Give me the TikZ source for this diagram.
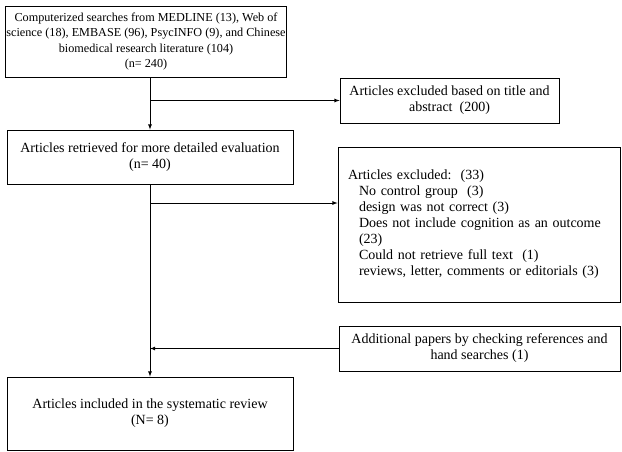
\documentclass[tikz,border=0pt]{standalone}
\usepackage{fontspec}
\setmainfont{Liberation Serif}
\usetikzlibrary{arrows, positioning}
\tikzstyle{flowBox} = [draw, rectangle, line width=0.8pt, align=center,
   inner sep=4pt, font=\fontsize{14}{16}\selectfont]
\newcommand{\reasonIndent}{\hspace*{11pt}}

\begin{document}
\begin{tikzpicture}[
  x=1pt, y=-1pt,
  >=latex,
  line width=0.8pt,
  ]
  \useasboundingbox (0,0) rectangle (622,451);
  \node[flowBox, font=\fontsize{12.2}{15.6}\selectfont, inner sep=1pt,
        minimum width=280pt, minimum height=71pt] (search) at (146,41.5)
    {Computerized searches from MEDLINE (13), Web of\\
     science (18), EMBASE (96), PsycINFO (9), and Chinese\\
     biomedical research literature (104)\\
     (n= 240)};
  \node[flowBox, minimum width=286pt, minimum height=54pt] (retrieved) at (150,157)
    {Articles retrieved for more detailed evaluation\\(n= 40)};
  \node[flowBox, minimum width=219pt, minimum height=45pt] (titleExcl) at (449.5,100.5)
    {Articles excluded based on title and\\abstract\ \ (200)};
  \node[flowBox, align=left, inner sep=10pt, text width=262pt,
        minimum height=155pt] (fullExcl) at (479,224.5)
    {Articles excluded:\ \ (33)\\
     \reasonIndent No control group\ \ (3)\\
     \reasonIndent design was not correct (3)\\
     \reasonIndent Does not include cognition as an outcome\\
     \reasonIndent (23)\\
     \reasonIndent Could not retrieve full text\ \ (1)\\
     \reasonIndent reviews, letter, comments or editorials (3)};
  \node[flowBox, minimum width=281pt, minimum height=45pt] (extra) at (479.5,348.5)
    {Additional papers by checking references and\\hand searches (1)};
  \node[flowBox, minimum width=286pt, minimum height=73pt] (included) at (150,413.5)
    {Articles included in the systematic review\\(N= 8)};
  \coordinate (fullIn) at ([yshift=21.5pt]fullExcl.west);
  \draw[->] (retrieved.north |- search.south) -- (retrieved.north);
  \draw[->] (retrieved.north |- titleExcl.west) -- (titleExcl.west);
  \draw[->] (retrieved.south) -- (included.north);
  \draw[->] (retrieved.south |- fullIn) -- (fullIn);
  \draw[->] (extra.west) -- (extra.west -| included.north);
\end{tikzpicture}
\end{document}
